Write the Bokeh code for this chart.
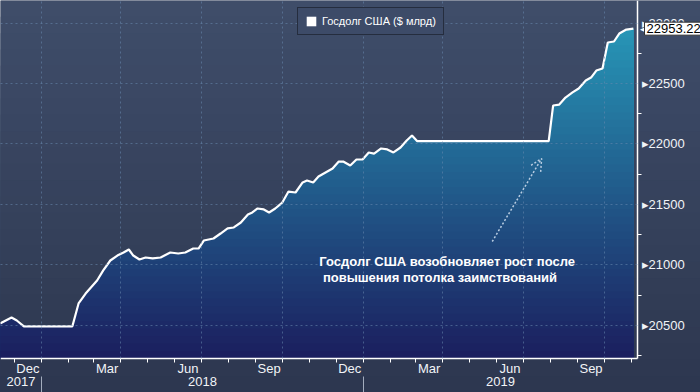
import numpy as np
import pandas as pd
from bokeh.plotting import figure
from bokeh.models import (Range1d, LinearAxis, FixedTicker, CustomJSTickFormatter,
                          Legend, LegendItem, Label, Arrow, OpenHead, BoxAnnotation)
from bokeh.embed import file_html
from bokeh.resources import INLINE

# ---------------- data ----------------
dates = [
    "2017-11-15", "2017-11-28", "2017-12-04", "2017-12-12", "2018-02-05",
    "2018-02-12", "2018-02-20", "2018-02-28", "2018-03-05", "2018-03-12",
    "2018-03-20", "2018-03-28", "2018-04-04", "2018-04-10", "2018-04-15",
    "2018-04-22", "2018-04-29", "2018-05-07", "2018-05-16", "2018-05-27",
    "2018-06-05", "2018-06-13", "2018-06-22", "2018-06-28", "2018-07-04",
    "2018-07-15", "2018-07-23", "2018-07-31", "2018-08-07", "2018-08-15",
    "2018-08-23", "2018-08-28", "2018-09-03", "2018-09-10", "2018-09-16",
    "2018-09-23", "2018-10-01", "2018-10-08", "2018-10-16", "2018-10-24",
    "2018-10-29", "2018-11-05", "2018-11-11", "2018-11-19", "2018-11-27",
    "2018-12-04", "2018-12-09", "2018-12-17", "2018-12-24", "2018-12-31",
    "2019-01-07", "2019-01-13", "2019-01-21", "2019-01-28", "2019-02-04",
    "2019-02-12", "2019-02-19", "2019-02-25", "2019-03-03", "2019-07-30",
    "2019-08-04", "2019-08-11", "2019-08-18", "2019-08-26", "2019-09-02",
    "2019-09-10", "2019-09-16", "2019-09-22", "2019-09-29", "2019-10-05",
    "2019-10-12", "2019-10-18", "2019-10-26", "2019-11-03",
]
debt = [
    20517, 20566, 20541, 20493, 20493,
    20682, 20764, 20831, 20872, 20955,
    21037, 21078, 21103, 21128, 21078,
    21045, 21062, 21054, 21062, 21103,
    21095, 21103, 21136, 21136, 21202,
    21219, 21260, 21302, 21310, 21351,
    21417, 21434, 21467, 21459, 21434,
    21467, 21516, 21607, 21599, 21682,
    21698, 21682, 21731, 21764, 21797,
    21855, 21855, 21822, 21872, 21872,
    21930, 21921, 21963, 21955, 21930,
    21971, 22029, 22070, 22023, 22023,
    22318, 22326, 22384, 22426, 22459,
    22525, 22549, 22607, 22624, 22839,
    22847, 22913, 22946, 22953.22,
]
series_name = "Госдолг США ($ млрд)"
note_lines = ["Госдолг США возобновляет рост после", "повышения потолка заимствований"]
y_ticks = [20500, 21000, 21500, 22000, 22500, 23000]
y_minor_ticks = [20250, 20750, 21250, 21750, 22250, 22750, 23250]
labelled_months = [12, 3, 6, 9]   # Dec, Mar, Jun, Sep

x_start, x_end = "2017-11-15 12:00", "2019-11-07 16:00"
y_start, y_end = 20227, 23186


def ms(s):
    return pd.Timestamp(s).value / 1e6


xd = np.array([ms(d) for d in dates])
vals = np.array(debt, dtype=float)
xs, xe = ms(x_start), ms(x_end)

FONT = "Liberation Sans"
TXT = "#f2f4f7"
W, H = 700, 392
PLOT_W, PLOT_H = 637, 358          # pixel extent of the data area inside the canvas
x_view_end = xs + (xe - xs) * W / PLOT_W
y_per_px = (y_end - y_start) / PLOT_H
y_view_start = y_start - (H - PLOT_H) * y_per_px
y_year_axis = y_start - 18 * y_per_px

p = figure(width=W, height=H, x_range=Range1d(xs, x_view_end),
           y_range=Range1d(y_view_start, y_end),
           y_axis_location="right", output_backend="svg", toolbar_location=None,
           min_border_left=0, min_border_top=0, min_border_right=0, min_border_bottom=0,
           background_fill_color="#38445e", border_fill_color="#38445e",
           outline_line_color=None)

# ---------------- background vertical gradient ----------------
bg_top = np.array([63, 77, 106])
bg_bot = np.array([45, 55, 79])
NB = 24
for i in range(NB, 0, -1):
    hi = y_view_start + (y_end - y_view_start) * i / NB
    f = (i - 0.5) / NB
    c = bg_bot + (bg_top - bg_bot) * f
    p.add_layout(BoxAnnotation(bottom=y_view_start, top=hi, fill_alpha=1, line_color=None,
                               fill_color="#%02x%02x%02x" % tuple(int(round(v)) for v in c),
                               level="underlay"))

# ---------------- gradient area (stacked caps) ----------------
bottom_rgb = np.array([27, 30, 94])
top_rgb = np.array([40, 160, 190])
N = 48
for i in range(N, 0, -1):
    hi = y_start + (y_end - y_start) * i / N
    f = (i - 0.5) / N
    c = bottom_rgb + (top_rgb - bottom_rgb) * f
    col = "#%02x%02x%02x" % tuple(int(round(v)) for v in c)
    p.varea(x=xd, y1=y_start, y2=np.minimum(vals, hi), fill_color=col)

p.line(xd, vals, line_color="white", line_width=2.2)

# legend swatch (zero-size quad on the first data point; only its legend glyph is seen)
sw = p.quad(left=xd[:1], right=xd[:1], top=vals[:1], bottom=vals[:1],
            fill_color="white", line_color=None)

# ---------------- grids ----------------
month_starts = [ms(d) for d in pd.date_range("2017-12-01", "2019-11-01", freq="MS")]
quarter_starts = [ms(d) for d in pd.date_range("2018-01-01", "2019-10-01", freq="QS")]
mid_months = []
for d in pd.date_range("2017-12-01", "2019-10-01", freq="MS"):
    if d.month in labelled_months:
        mid_months.append(ms(d + pd.Timedelta(days=d.days_in_month / 2)))

grid_col, grid_alpha, grid_dash = "#6a8bb0", 0.55, "2 3"
p.xgrid[0].ticker = FixedTicker(ticks=quarter_starts)
p.ygrid[0].ticker = FixedTicker(ticks=y_ticks)
for g in (p.xgrid[0], p.ygrid[0]):
    g.grid_line_color = grid_col
    g.grid_line_alpha = grid_alpha
    g.grid_line_dash = grid_dash
    g.level = "guide"
p.ygrid[0].cross_bounds = (xs, xe)
p.xgrid[0].cross_bounds = (y_start, y_end)

# ---------------- x axes (drawn at the base of the series) ----------------
ax = p.xaxis[0]
ax.fixed_location = y_start
ax.bounds = (xs, xe)
ax.ticker = FixedTicker(ticks=mid_months, minor_ticks=month_starts)
ax.formatter = CustomJSTickFormatter(code="""
const m = ['Jan','Feb','Mar','Apr','May','Jun','Jul','Aug','Sep','Oct','Nov','Dec'];
return m[new Date(tick).getUTCMonth()];
""")
ax.major_tick_line_color = None
ax.major_tick_out = 0
ax.major_tick_in = 0
ax.minor_tick_line_color = "white"
ax.minor_tick_in = 0
ax.minor_tick_out = 4
ax.axis_line_color = "white"
ax.axis_line_width = 1.5
ax.major_label_standoff = -2
ax.major_label_text_color = TXT
ax.major_label_text_font = FONT
ax.major_label_text_font_size = "13px"

year_starts = [ms("2018-01-01"), ms("2019-01-01")]
bounds = [xs] + year_starts + [xe]
year_centers = [(bounds[i] + bounds[i + 1]) / 2 for i in range(len(bounds) - 1)]
yr = LinearAxis(fixed_location=y_year_axis,
                ticker=FixedTicker(ticks=year_centers, minor_ticks=year_starts),
                formatter=CustomJSTickFormatter(code="return String(new Date(tick).getUTCFullYear());"),
                axis_line_color=None, major_tick_line_color=None, major_tick_out=0, major_tick_in=0,
                minor_tick_in=0, minor_tick_out=16, minor_tick_line_color="#a3acbd",
                major_label_standoff=-16, major_label_text_color=TXT,
                major_label_text_font=FONT, major_label_text_font_size="13px")
p.add_layout(yr, "below")

# ---------------- value axis (drawn at the right end of the series) ----------------
ay = p.yaxis[0]
ay.fixed_location = xe
ay.bounds = (y_start, y_end)
ay.ticker = FixedTicker(ticks=y_ticks, minor_ticks=y_minor_ticks)
ay.formatter = CustomJSTickFormatter(code="return '\u25B8' + tick.toFixed(0);")
ay.axis_line_color = "white"
ay.axis_line_width = 1.5
ay.major_tick_line_color = None
ay.major_tick_out = 0
ay.major_tick_in = 0
ay.minor_tick_line_color = "white"
ay.minor_tick_in = 0
ay.minor_tick_out = 4
ay.major_label_standoff = 0
ay.major_label_text_color = TXT
ay.major_label_text_font = FONT
ay.major_label_text_font_size = "13px"

# ---------------- legend ----------------
legend = Legend(items=[LegendItem(label=series_name, renderers=[sw])],
                location=(297, H - 9 - 26), orientation="vertical",
                background_fill_color="#3d4b68", background_fill_alpha=1,
                border_line_color="#0d0f14", border_line_width=1,
                padding=7, spacing=0, margin=0,
                glyph_width=12, glyph_height=12, label_height=12, label_standoff=5,
                label_text_color="white", label_text_font=FONT, label_text_font_size="11px")
p.add_layout(legend)

# ---------------- annotation ----------------
p.add_layout(Label(x=ms("2018-11-12"), y=21029, text=note_lines[0], text_align="left",
                   text_baseline="middle", text_color="white", text_font=FONT,
                   text_font_style="bold", text_font_size="13px"))
p.add_layout(Label(x=ms("2018-11-16"), y=20897, text=note_lines[1], text_align="left",
                   text_baseline="middle", text_color="white", text_font=FONT,
                   text_font_style="bold", text_font_size="13px"))
arrow_col = "#b9cde2"
p.add_layout(Arrow(x_start=ms("2019-05-27"), y_start=21194, x_end=ms("2019-07-22"), y_end=21880,
                   line_color=arrow_col, line_width=1.5, line_dash="2 2",
                   end=OpenHead(size=12, line_color=arrow_col, line_width=1.5, line_dash="2 2")))

# ---------------- last value tag ----------------
p.add_layout(Label(x=xe, y=vals[-1], x_offset=9, text="\u25C0", text_align="right",
                   text_baseline="middle", text_color="white", text_font_size="9px",
                   level="overlay"))
p.add_layout(Label(x=xe, y=vals[-1], x_offset=7, text=f"{vals[-1]:.2f}", text_align="left",
                   text_baseline="middle", text_color="black", text_font=FONT,
                   text_font_size="13px", background_fill_color="white",
                   border_line_color="#333333", border_line_width=1, padding=2,
                   level="overlay"))

open("out.html", "w").write(file_html(p, INLINE))
